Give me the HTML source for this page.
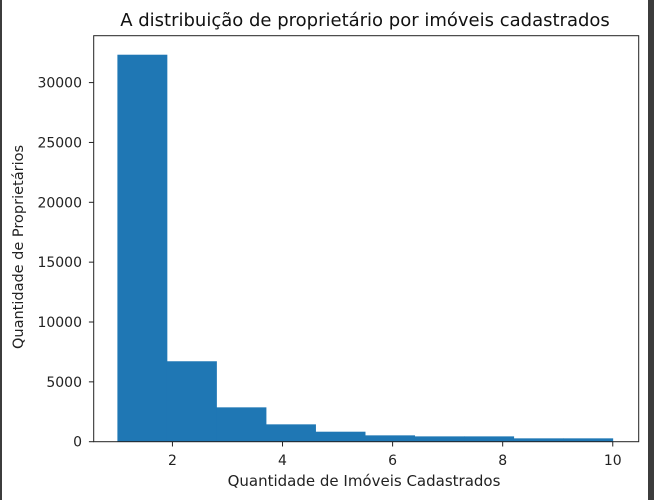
<!DOCTYPE html>
<html><head><meta charset="utf-8"><style>
html,body{margin:0;padding:0;background:#fff;}
svg{display:block;font-family:"DejaVu Sans","Liberation Sans",sans-serif;}
</style></head><body>
<svg id="chart" width="654" height="500">
  <rect x="0" y="0" width="654" height="500" fill="#fff"/>
  <rect x="0" y="0" width="2" height="500" fill="#3c3c3c"/>
  <rect x="648" y="0" width="6" height="500" fill="#3c3c3c"/>
  <g id="bars"></g>
  <g id="xticks"></g>
  <g id="yticks"></g>
  <rect x="93.7" y="35.7" width="545" height="406" fill="none" stroke="#222" stroke-width="1"/>
  <text x="365" y="26" font-size="18" text-anchor="middle" fill="#111">A distribuição de proprietário por imóveis cadastrados</text>
  <text x="364" y="486" font-size="15" text-anchor="middle" fill="#222">Quantidade de Imóveis Cadastrados</text>
  <text transform="translate(23,247) rotate(-90)" font-size="14.5" text-anchor="middle" fill="#222">Quantidade de Proprietários</text>
</svg>
<script>
const binEdges = [1, 1.9, 2.8, 3.7, 4.6, 5.5, 6.4, 7.3, 8.2, 9.1, 10];
const counts = [32330, 6720, 2870, 1450, 835, 530, 445, 445, 280, 280];
const xTicks = [2, 4, 6, 8, 10];
const yTicks = [0, 5000, 10000, 15000, 20000, 25000, 30000];

const NS = "http://www.w3.org/2000/svg";
function xs(v){ return 117.4 + (v - 1) * 55.04; }
function ys(v){ return 441.7 - v * 0.01197; }
function mk(tag, attrs, parent){
  const e = document.createElementNS(NS, tag);
  for (const k in attrs) e.setAttribute(k, attrs[k]);
  parent.appendChild(e);
  return e;
}
const bars = document.getElementById('bars');
counts.forEach((c, i) => {
  const x0 = xs(binEdges[i]), x1 = xs(binEdges[i+1]);
  const r = mk('rect', {x: x0, y: ys(c), width: x1 - x0 + 0.4, height: ys(0) - ys(c), fill: '#1f77b4'}, bars);
  
  
});
const xg = document.getElementById('xticks');
xTicks.forEach(t => {
  const l = mk('line', {x1: xs(t), x2: xs(t), y1: 441.7, y2: 446.5, stroke: '#222'}, xg);
  
  
  const tx = mk('text', {x: xs(t), y: 465, 'font-size': 14, 'text-anchor': 'middle', fill: '#222'}, xg);
  tx.textContent = t;
  
  
});
const yg = document.getElementById('yticks');
yTicks.forEach(t => {
  const l = mk('line', {x1: 88.9, x2: 93.7, y1: ys(t), y2: ys(t), stroke: '#222'}, yg);
  
  
  const tx = mk('text', {x: 82, y: ys(t) + 5, 'font-size': 14, 'text-anchor': 'end', fill: '#222'}, yg);
  tx.textContent = t;
  
  
});
</script>
</body></html>
